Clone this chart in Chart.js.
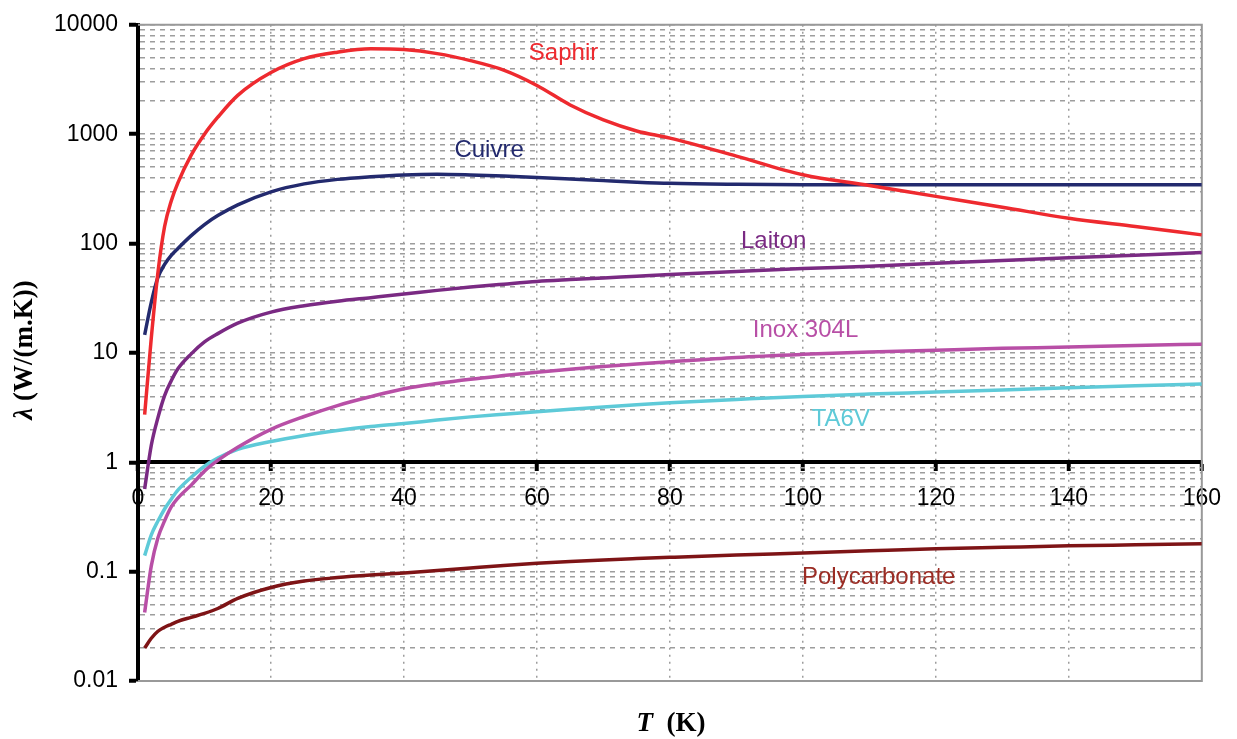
<!DOCTYPE html>
<html>
<head>
<meta charset="utf-8">
<script src="https://cdn.jsdelivr.net/npm/chart.js@4.4.1/dist/chart.umd.min.js"></script>
<style>
    body { margin: 0; background: #fff; }
    #holder { width: 1237px; height: 739px; }
</style>
</head>
<body>
<div id="holder"><canvas id="chart" width="1237" height="739"></canvas></div>
<script>
const temps = [1, 2, 3, 4, 5, 6, 8, 10, 12, 15, 20, 25, 30, 35, 40, 45, 50, 55, 60, 65, 70, 75, 80, 90, 100, 110, 120, 130, 140, 150, 160];

// Thermal conductivity, W/(m.K)
const saphir = [2.73, 13.7, 54.5, 143, 245, 359, 644, 1000, 1428, 2263, 3660, 4900, 5620, 6030, 5930, 5450, 4700, 3850, 2790, 1850, 1350, 1070, 920, 630, 425, 340, 270, 215, 170, 143, 120];
const cuivre = [14.6, 29, 49, 64.4, 77.8, 90, 118, 149, 180, 226, 297, 351, 386, 408, 424, 430, 424, 414, 402, 389, 376, 364, 355, 348, 345, 344, 344, 344, 344, 344, 345];
const laiton = [0.57, 1.43, 2.56, 4.07, 5.56, 7.15, 9.8, 12.6, 15.0, 18.7, 23.6, 27.0, 29.7, 32, 34.5, 37.3, 40, 42.5, 45, 46.8, 48.5, 50.2, 52, 55.5, 59, 62, 66, 70, 74, 78, 83];
const inox = [0.0424, 0.113, 0.204, 0.291, 0.39, 0.47, 0.618, 0.83, 1.04, 1.37, 2.0, 2.62, 3.3, 3.98, 4.7, 5.25, 5.75, 6.2, 6.65, 7.1, 7.5, 7.9, 8.3, 9.1, 9.7, 10.2, 10.6, 11.0, 11.3, 11.7, 12.0];
const ta6v = [0.14, 0.217, 0.29, 0.374, 0.46, 0.556, 0.73, 0.92, 1.09, 1.31, 1.55, 1.76, 1.95, 2.12, 2.26, 2.43, 2.6, 2.75, 2.9, 3.05, 3.2, 3.35, 3.5, 3.75, 4.0, 4.2, 4.38, 4.58, 4.8, 5.0, 5.2];
const polycarbonate = [0.020, 0.0246, 0.0285, 0.031, 0.033, 0.0351, 0.0382, 0.0415, 0.046, 0.0569, 0.0716, 0.082, 0.0882, 0.093, 0.097, 0.1025, 0.108, 0.1137, 0.119, 0.1237, 0.128, 0.1317, 0.1352, 0.142, 0.148, 0.155, 0.162, 0.167, 0.172, 0.176, 0.18];

const seriesNames = ['Saphir', 'Cuivre', 'Laiton', 'Inox 304L', 'TA6V', 'Polycarbonate'];
// Where each curve's name sits, in data units (T, lambda)
const labelT = [64, 52.8, 95.6, 100.4, 105.7, 111.4];
const labelLambda = [5450, 716, 104, 16.2, 2.46, 0.088];

// Axis ticks
const xMin = 0, xMax = 160, xStep = 20;
const yDecades = [0.01, 0.1, 1, 10, 100, 1000, 10000];
const yDecadeLabels = ['0.01', '0.1', '1', '10', '100', '1000', '10000'];

const colors = ['#ee2a2f', '#232a6e', '#7a2a83', '#b84fa6', '#5ecad8', '#7e1416'];
const labelColors = ['#ee2a2f', '#232a6e', '#7a2a83', '#b84fa6', '#5ecad8', '#9b2c24'];
const gridGray = '#9d9d9d';

// Every 1..9 x 10^n value, used for the dashed horizontal grid
function logGridValues() {
    const values = [];
    for (let i = 0; i < yDecades.length; i++) {
        const d = yDecades[i];
        values.push(d);
        if (i < yDecades.length - 1) {
            for (let m = 2; m <= 9; m++) {
                values.push(Number((m * d).toPrecision(3)));
            }
        }
    }
    return values;
}

function toPoints(values) {
    return values.map((v, i) => ({ x: temps[i], y: v }));
}

const allSeries = [saphir, cuivre, laiton, inox, ta6v, polycarbonate];

// Frame, curve names and axis titles
const decorPlugin = {
    id: 'decor',
    beforeDatasetsDraw(chart) {
        const { ctx, chartArea: a } = chart;
        ctx.save();
        ctx.strokeStyle = '#999';
        ctx.lineWidth = 2;
        ctx.beginPath();
        ctx.moveTo(a.left, a.top);
        ctx.lineTo(a.right, a.top);
        ctx.lineTo(a.right, a.bottom);
        ctx.lineTo(a.left, a.bottom);
        ctx.stroke();
        ctx.restore();
    },
    afterDraw(chart) {
        const { ctx, scales } = chart;
        ctx.save();
        ctx.font = '24px "Liberation Sans", Arial, sans-serif';
        ctx.textAlign = 'center';
        ctx.textBaseline = 'middle';
        for (let i = 0; i < seriesNames.length; i++) {
            ctx.fillStyle = labelColors[i];
            ctx.fillText(seriesNames[i], scales.x.getPixelForValue(labelT[i]), scales.y.getPixelForValue(labelLambda[i]));
        }

        // x title: italic T then (K)
        ctx.fillStyle = '#000';
        ctx.textAlign = 'left';
        const italic = 'italic bold 27px "Liberation Serif", "Times New Roman", serif';
        const bold = 'bold 27px "Liberation Serif", "Times New Roman", serif';
        ctx.font = italic;
        const wT = ctx.measureText('T').width;
        ctx.font = bold;
        const wK = ctx.measureText('  (K)').width;
        let x = 671 - (wT + wK) / 2;
        ctx.font = italic;
        ctx.fillText('T', x, 724);
        ctx.font = bold;
        ctx.fillText('  (K)', x + wT, 724);

        // y title, rotated
        ctx.translate(25, 350);
        ctx.rotate(-Math.PI / 2);
        ctx.font = italic;
        const wL = ctx.measureText('\u03bb').width;
        ctx.font = bold;
        const wU = ctx.measureText(' (W/(m.K))').width;
        x = -(wL + wU) / 2;
        ctx.font = italic;
        ctx.fillText('\u03bb', x, 0);
        ctx.font = bold;
        ctx.fillText(' (W/(m.K))', x + wL, 0);
        ctx.restore();
    }
};

const config = {
    type: 'line',
    data: {
        datasets: allSeries.map((values, i) => ({
            label: seriesNames[i],
            data: toPoints(values),
            borderColor: colors[i],
            borderWidth: 3.5,
            pointRadius: 0,
            fill: false,
            cubicInterpolationMode: 'monotone'
        }))
    },
    options: {
        responsive: false,
        animation: false,
        layout: { padding: { left: 0, top: 21, right: 33, bottom: 58 } },
        scales: {
            x: {
                type: 'linear',
                position: { y: 1 }, // axis line drawn across at lambda = 1
                min: xMin,
                max: xMax,
                grid: {
                    color: (context) => (context.tick.value === xMin || context.tick.value === xMax) ? 'rgba(0,0,0,0)' : gridGray,
                    lineWidth: 1.5,
                    drawTicks: true,
                    tickLength: 7,
                    tickWidth: 4,
                    tickColor: '#000',
                    tickBorderDash: []
                },
                border: { display: true, color: '#000', width: 4, dash: [2, 5] },
                ticks: {
                    stepSize: xStep,
                    padding: 16,
                    color: '#000',
                    maxRotation: 0,
                    font: { family: '"Liberation Sans", Arial, sans-serif', size: 23 }
                }
            },
            y: {
                type: 'logarithmic',
                position: 'left',
                min: yDecades[0],
                max: yDecades[yDecades.length - 1],
                afterFit: (scale) => { scale.width = 138; },
                afterBuildTicks: (scale) => {
                    scale.ticks = logGridValues().map(v => ({ value: v }));
                },
                grid: {
                    color: (context) => context.tick.value === 1 ? 'rgba(0,0,0,0)' : gridGray,
                    lineWidth: 1.5,
                    drawTicks: true,
                    tickLength: 9,
                    tickWidth: 4,
                    tickColor: (context) => yDecades.includes(context.tick.value) ? '#000' : 'rgba(0,0,0,0)',
                    tickBorderDash: []
                },
                border: { display: true, color: '#000', width: 4, dash: [5, 5] },
                ticks: {
                    autoSkip: false,
                    padding: 11,
                    color: '#000',
                    font: { family: '"Liberation Sans", Arial, sans-serif', size: 23 },
                    callback: (value) => {
                        const k = yDecades.indexOf(value);
                        return k >= 0 ? yDecadeLabels[k] : '';
                    }
                }
            }
        },
        plugins: {
            legend: { display: false },
            tooltip: { enabled: false }
        }
    },
    plugins: [decorPlugin]
};

new Chart(document.getElementById('chart').getContext('2d'), config);
</script>
</body>
</html>
